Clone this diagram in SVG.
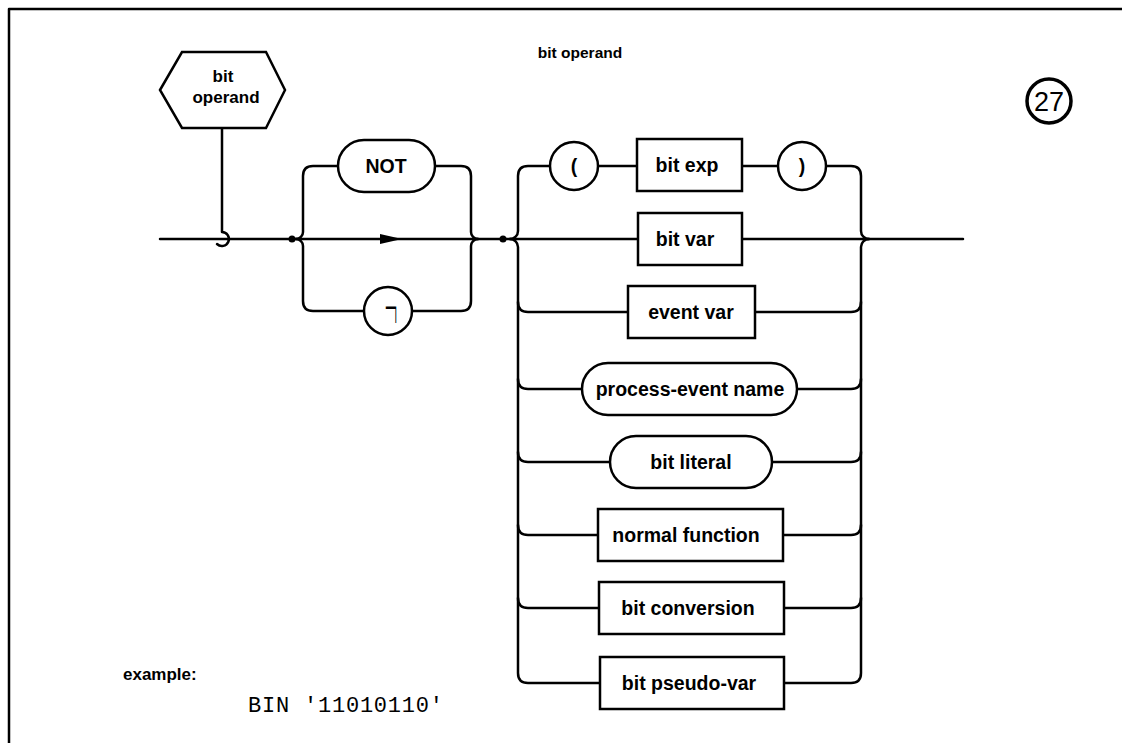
<svg xmlns="http://www.w3.org/2000/svg" width="1122" height="743" viewBox="0 0 1122 743">
<style>
.ln{fill:none;stroke:#000;stroke-width:2.5;stroke-linecap:round;stroke-linejoin:round}
.box{fill:#fff;stroke:#000;stroke-width:2.5}
.lbl{font-family:"Liberation Sans",Arial,sans-serif;font-weight:bold;font-size:19.5px;text-anchor:middle;fill:#000}
.hx{font-family:"Liberation Sans",Arial,sans-serif;font-weight:bold;font-size:17px;text-anchor:middle;fill:#000}
</style>
<rect width="1122" height="743" fill="#fff"/>
<g id="frame"><path class="ln" d="M9,743 V9 H1122" stroke-width="3"/></g>
<g id="title"><text x="580" y="58" class="hx" style="font-size:15.5px">bit operand</text></g>
<g id="page-number">
<circle cx="1049" cy="101" r="22" fill="none" stroke="#000" stroke-width="3.5"/>
<text x="1049" y="111" text-anchor="middle" font-family="Liberation Sans,Arial,sans-serif" font-size="27">27</text>
</g>
<g id="connectors">
<path class="ln" d="M160,239 H963"/>
<path class="ln" d="M222,128 V232 A7,7 0 1 1 217,244"/>
<circle cx="292" cy="239" r="3.5"/>
<circle cx="503" cy="239" r="3.5"/>
<path class="ln" d="M296,239 A7,7 0 0 0 303,232 V176 Q303,166 313,166 H338"/>
<path class="ln" d="M296,239 A7,7 0 0 1 303,246 V301 Q303,311 313,311 H364"/>
<path class="ln" d="M435,166 H461 Q471,166 471,176 V232 A7,7 0 0 0 478,239"/>
<path class="ln" d="M412,311 H461 Q471,311 471,301 V246 A7,7 0 0 1 478,239"/>
<polygon points="380,234 402,239 380,244" fill="#000"/>
<path class="ln" d="M510,239 A8,8 0 0 0 518,231 V176 Q518,166 528,166 H550"/>
<path class="ln" d="M510,239 A8,8 0 0 1 518,247 V673 Q518,683 528,683 H600"/>
<path class="ln" d="M598,166 H637 M742,166 H778"/>
<path class="ln" d="M826,166 H851 Q861,166 861,176 V231 A8,8 0 0 0 869,239"/>
<path class="ln" d="M784,683 H851 Q861,683 861,673 V247 A8,8 0 0 1 869,239"/>
<path class="ln" d="M518,302 Q518,312 528,312 H628 M755,312 H851 Q861,312 861,302"/>
<path class="ln" d="M518,379 Q518,389 528,389 H582 M797,389 H851 Q861,389 861,379"/>
<path class="ln" d="M518,452 Q518,462 528,462 H610 M772,462 H851 Q861,462 861,452"/>
<path class="ln" d="M518,525 Q518,535 528,535 H598 M783,535 H851 Q861,535 861,525"/>
<path class="ln" d="M518,598 Q518,608 528,608 H599 M784,608 H851 Q861,608 861,598"/>
</g>
<g id="n-bit-operand">
<polygon class="box" points="160,90 182,52 266,52 285,90 266,128 182,128"/>
<text x="223" y="82" class="hx">bit</text>
<text x="226" y="103" class="hx">operand</text>
</g>
<g id="n-not"><rect class="box" x="338" y="140" width="97" height="52" rx="26"/><text x="386" y="173" class="lbl">NOT</text></g>
<g id="n-notsign"><circle class="box" cx="388" cy="311" r="24"/><text x="0" y="0" text-anchor="middle" font-family="DejaVu Sans,sans-serif" font-weight="200" font-size="34" transform="translate(391,332) scale(0.5,1.9)">¬</text></g>
<g id="n-lparen"><circle class="box" cx="574" cy="166" r="24"/><text x="574" y="173" class="lbl">(</text></g>
<g id="n-bit-exp"><rect class="box" x="637" y="139" width="105" height="52"/><text x="687" y="172" class="lbl">bit exp</text></g>
<g id="n-rparen"><circle class="box" cx="802" cy="166" r="24"/><text x="802" y="173" class="lbl">)</text></g>
<g id="n-bit-var"><rect class="box" x="638" y="213" width="104" height="52"/><text x="685" y="246" class="lbl">bit var</text></g>
<g id="n-event-var"><rect class="box" x="628" y="286" width="127" height="52"/><text x="691" y="319" class="lbl">event var</text></g>
<g id="n-process-event-name"><rect class="box" x="582" y="363" width="215" height="52" rx="26"/><text x="690" y="396" class="lbl">process-event name</text></g>
<g id="n-bit-literal"><rect class="box" x="610" y="436" width="162" height="52" rx="26"/><text x="691" y="469" class="lbl">bit literal</text></g>
<g id="n-normal-function"><rect class="box" x="598" y="509" width="185" height="52"/><text x="686" y="542" class="lbl">normal function</text></g>
<g id="n-bit-conversion"><rect class="box" x="599" y="582" width="185" height="52"/><text x="688" y="615" class="lbl">bit conversion</text></g>
<g id="n-bit-pseudo-var"><rect class="box" x="600" y="657" width="184" height="52"/><text x="689" y="690" class="lbl">bit pseudo-var</text></g>
<g id="example">
<text x="123" y="680" font-family="Liberation Sans,Arial,sans-serif" font-weight="bold" font-size="17">example:</text>
<text x="248" y="712" font-family="Liberation Mono,Courier New,monospace" font-size="22" textLength="195" lengthAdjust="spacing">BIN '11010110'</text>
</g>
</svg>
